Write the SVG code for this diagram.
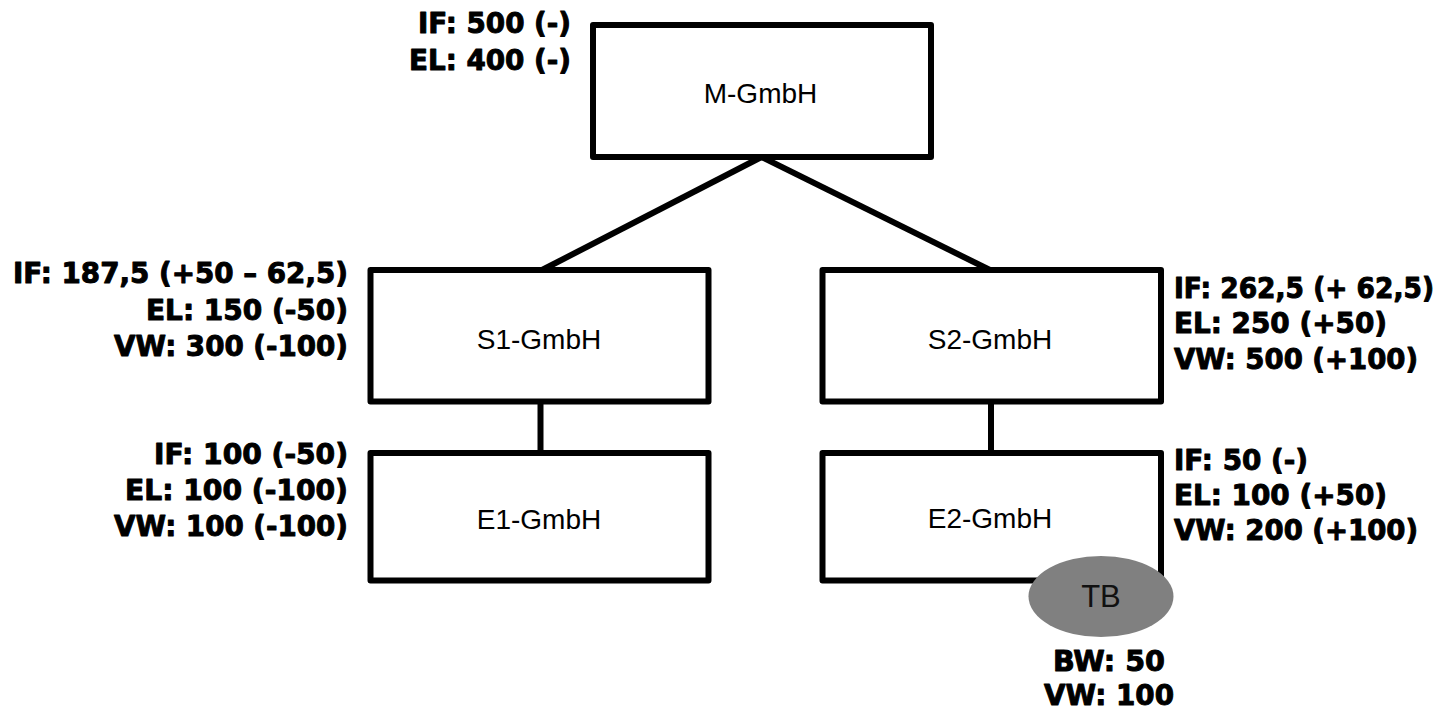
<svg xmlns="http://www.w3.org/2000/svg" width="1455" height="714" viewBox="0 0 1455 714">
<style>
.box{fill:#fff;stroke:#000;stroke-width:6;stroke-linejoin:round}
.conn{stroke:#000;stroke-width:6;fill:none}
.name{font-family:"Liberation Sans",Arial,sans-serif;font-size:28px;fill:#000;text-anchor:middle}
.lbl{font-family:"DejaVu Sans",sans-serif;font-weight:bold;font-size:29px;fill:#000;stroke:#000;stroke-width:1;stroke-linejoin:round}
.end{text-anchor:end}
.mid{text-anchor:middle}
</style>
<rect width="1455" height="714" fill="#fff"/>
<g id="connectors">
<line class="conn" x1="761.5" y1="157" x2="542" y2="270"/>
<line class="conn" x1="761.5" y1="157" x2="990" y2="270"/>
<line class="conn" x1="540.5" y1="401.5" x2="540.5" y2="453"/>
<line class="conn" x1="991" y1="401.5" x2="991" y2="453"/>
</g>
<g id="m-gmbh">
<rect class="box" x="593" y="25" width="338" height="132"/>
<text class="name" x="760.5" y="103">M-GmbH</text>
<text class="lbl end" x="571" y="33" textLength="153" lengthAdjust="spacingAndGlyphs">IF: 500 (-)</text>
<text class="lbl end" x="571" y="70" textLength="162" lengthAdjust="spacingAndGlyphs">EL: 400 (-)</text>
</g>
<g id="s1-gmbh">
<rect class="box" x="370.5" y="270" width="338" height="131.5"/>
<text class="name" x="539" y="349">S1-GmbH</text>
<text class="lbl end" x="348" y="283" textLength="335" lengthAdjust="spacingAndGlyphs">IF: 187,5 (+50 – 62,5)</text>
<text class="lbl end" x="348" y="320" textLength="202" lengthAdjust="spacingAndGlyphs">EL: 150 (-50)</text>
<text class="lbl end" x="348" y="356" textLength="234" lengthAdjust="spacingAndGlyphs">VW: 300 (-100)</text>
</g>
<g id="e1-gmbh">
<rect class="box" x="370.5" y="453" width="338" height="127.5"/>
<text class="name" x="539" y="529">E1-GmbH</text>
<text class="lbl end" x="348" y="464" textLength="194" lengthAdjust="spacingAndGlyphs">IF: 100 (-50)</text>
<text class="lbl end" x="348" y="500" textLength="223" lengthAdjust="spacingAndGlyphs">EL: 100 (-100)</text>
<text class="lbl end" x="348" y="536" textLength="234" lengthAdjust="spacingAndGlyphs">VW: 100 (-100)</text>
</g>
<g id="s2-gmbh">
<rect class="box" x="822.5" y="270" width="338.5" height="131.5"/>
<text class="name" x="990" y="349">S2-GmbH</text>
<text class="lbl" x="1174" y="298" style="font-size:28px" textLength="260" lengthAdjust="spacingAndGlyphs">IF: 262,5 (+ 62,5)</text>
<text class="lbl" x="1174" y="333" textLength="213" lengthAdjust="spacingAndGlyphs">EL: 250 (+50)</text>
<text class="lbl" x="1174" y="369" textLength="244" lengthAdjust="spacingAndGlyphs">VW: 500 (+100)</text>
</g>
<g id="e2-gmbh">
<rect class="box" x="822.5" y="453" width="338.5" height="127.5"/>
<text class="name" x="990" y="528">E2-GmbH</text>
<text class="lbl" x="1174" y="470" textLength="134" lengthAdjust="spacingAndGlyphs">IF: 50 (-)</text>
<text class="lbl" x="1174" y="505" textLength="213" lengthAdjust="spacingAndGlyphs">EL: 100 (+50)</text>
<text class="lbl" x="1174" y="540" textLength="244" lengthAdjust="spacingAndGlyphs">VW: 200 (+100)</text>
</g>
<g id="tb">
<ellipse cx="1101" cy="596.5" rx="72.5" ry="40.5" fill="#808080"/>
<text class="name" x="1101" y="607" style="font-size:31px;fill:#111">TB</text>
<text class="lbl mid" x="1109" y="671" textLength="112" lengthAdjust="spacingAndGlyphs">BW: 50</text>
<text class="lbl mid" x="1109" y="705" textLength="130" lengthAdjust="spacingAndGlyphs">VW: 100</text>
</g>
</svg>
